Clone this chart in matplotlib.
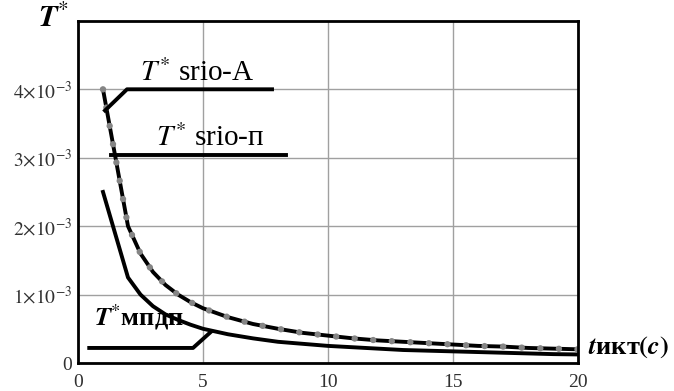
import numpy as np
import matplotlib
matplotlib.use("Agg")
import matplotlib.pyplot as plt

plt.rcParams['font.family'] = ['Liberation Serif', 'DejaVu Serif']
plt.rcParams['mathtext.fontset'] = 'stix'

# time, s
t = [1, 2, 2.5, 3, 3.5, 4, 4.5, 5, 6, 7, 8, 9, 10, 11, 12, 13, 14, 15, 16, 17, 18, 19, 20]
# T* srio-A / srio-п (the two curves coincide), x1e-3
srio = [4.0, 2.0, 1.6, 1.33, 1.14, 1.0, 0.89, 0.8, 0.67, 0.57, 0.5, 0.44, 0.4,
        0.36, 0.33, 0.31, 0.29, 0.27, 0.25, 0.24, 0.22, 0.21, 0.2]
# T* мпдп, x1e-3
mpdp = [2.5, 1.25, 1.0, 0.83, 0.71, 0.63, 0.56, 0.5, 0.42, 0.36, 0.31, 0.28, 0.25,
        0.23, 0.21, 0.19, 0.18, 0.17, 0.16, 0.15, 0.14, 0.13, 0.125]

yticks = [0, 1e-3, 2e-3, 3e-3, 4e-3]
ytick_labels = ["0", r"$1{\times}10^{-3}$", r"$2{\times}10^{-3}$",
                r"$3{\times}10^{-3}$", r"$4{\times}10^{-3}$"]
xticks = [0, 5, 10, 15, 20]

t = np.array(t)
srio = np.array(srio) * 1e-3
mpdp = np.array(mpdp) * 1e-3

fig = plt.figure(figsize=(6.74, 3.91), dpi=100)
ax = fig.add_axes([0.1157, 0.0716, 0.742, 0.875])

ax.plot(t, mpdp, color='black', lw=2.8)
ax.plot(t, srio, color='black', lw=2.8)
ax.plot(t, srio, color='#858585', lw=4.6, linestyle=(0, (0.01, 2.9)),
        dash_capstyle='round')

# leader lines
ax.plot([1.08, 1.96, 7.76], [3.69e-3, 4.0e-3, 4.0e-3], color='black', lw=2.8)
ax.plot([1.32, 8.3], [3.04e-3, 3.04e-3], color='black', lw=2.8)
ax.plot([0.45, 4.6, 5.3], [0.22e-3, 0.22e-3, 0.45e-3], color='black', lw=2.8)

ax.text(4.75, 4.04e-3, r"$T^{*}$ srio-A", fontsize=21, ha='center', va='bottom')
ax.text(5.3, 3.08e-3, r"$T^{*}$ srio-п", fontsize=21, ha='center', va='bottom')
ax.text(2.45, 0.46e-3, r"$\boldsymbol{T}^{*}$мпдп", fontsize=19, ha='center', va='bottom',
        fontweight='bold')

ax.set_xlim(0, 20)
ax.set_ylim(0, 5e-3)
ax.set_xticks(xticks)
ax.set_xticklabels([str(v) for v in xticks], fontsize=14, color='#303030')
ax.set_yticks(yticks)
ax.set_yticklabels(ytick_labels, fontsize=14, color='#303030')
ax.tick_params(axis='x', length=0, pad=8)
ax.tick_params(axis='y', length=0, pad=4)
ax.grid(True, color='#a0a0a0', lw=1)
for s in ax.spines.values():
    s.set_linewidth(2)
    s.set_color('black')

fig.text(0.056, 0.95, r"$\boldsymbol{T}^{*}$", fontsize=22, ha='left', va='center')
ax.text(1.02, 0.045, r"$\boldsymbol{t}$икт$\boldsymbol{(c)}$", transform=ax.transAxes,
        fontsize=19, ha='left', va='center', fontweight='bold')

fig.savefig("out.png", dpi=100)
